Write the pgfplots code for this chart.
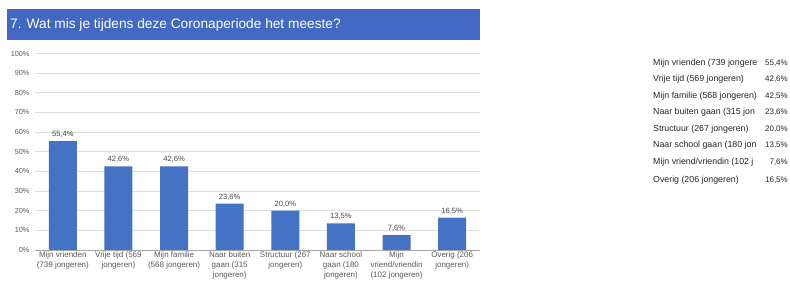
\documentclass[border=0pt]{standalone}
\usepackage{pgfplots}
\pgfplotsset{compat=1.18}
\usepackage{fontspec}
\setmainfont{Liberation Sans}
\definecolor{barblue}{RGB}{68,114,196}
\definecolor{banner}{RGB}{66,104,196}
\definecolor{ticktext}{RGB}{90,90,90}
\definecolor{gridc}{RGB}{222,222,222}
\begin{document}
\begin{tikzpicture}[x=1pt,y=1pt]
\useasboundingbox (0,0) rectangle (790,281);
\fill[white] (0,0) rectangle (790,281);
\fill[banner] (7,240.5) rectangle (480,271.5);
\node[anchor=west,text=white,font=\fontsize{13.7}{16}\selectfont,inner sep=0pt] at (10,256) {7. Wat mis je tijdens deze Coronaperiode het meeste?};
\begin{axis}[
  at={(35pt,31pt)}, anchor=south west,
  scale only axis, width=445pt, height=196.5pt,
  xmin=-0.5, xmax=7.5, ymin=0, ymax=100,
  ytick={0,10,...,100},
  yticklabel={\pgfmathprintnumber{\tick}\%},
  /pgf/number format/assume math mode=true,
  yticklabel style={font=\fontsize{7.3}{8}\selectfont, text=ticktext, xshift=-2pt},
  xtick=data,
  xticklabels={{Mijn vrienden\\(739 jongeren)},{Vrije tijd (569\\jongeren)},{Mijn familie\\(568 jongeren)},{Naar buiten\\gaan (315\\jongeren)},{Structuur (267\\jongeren)},{Naar school\\gaan (180\\jongeren)},{Mijn\\vriend/vriendin\\(102 jongeren)},{Overig (206\\jongeren)}},
  xticklabel style={font=\fontsize{8}{10}\selectfont, text=ticktext, align=center, yshift=0pt, inner ysep=2pt},
  axis line style={draw=none},
  tick style={draw=none},
  ymajorgrids, grid style={gridc, line width=0.6pt},
  extra y ticks={0}, extra y tick labels={},
  extra y tick style={grid style={gray!70, line width=0.6pt}},
  clip=false,
]
\addplot[ybar, bar width=28pt, fill=barblue, draw=none,
  nodes near coords, point meta=explicit symbolic,
  every node near coord/.append style={font=\fontsize{7.6}{9}\selectfont, text=ticktext!80!black, yshift=0pt}]
  coordinates {(0,55.4) [55,4\%] (1,42.6) [42,6\%] (2,42.5) [42,6\%] (3,23.6) [23,6\%] (4,20.0) [20,0\%] (5,13.5) [13,5\%] (6,7.6) [7,6\%] (7,16.5) [16,5\%]};
\end{axis}
\begin{scope}[font=\fontsize{8.8}{10}\selectfont, text=black!85]
\node[anchor=west,inner sep=0pt] at (653,218) {Mijn vrienden (739 jongere};
\node[anchor=west,inner sep=0pt] at (653,201.5) {Vrije tijd (569 jongeren)};
\node[anchor=west,inner sep=0pt] at (653,185) {Mijn familie (568 jongeren)};
\node[anchor=west,inner sep=0pt] at (653,168.5) {Naar buiten gaan (315 jon};
\node[anchor=west,inner sep=0pt] at (653,152) {Structuur (267 jongeren)};
\node[anchor=west,inner sep=0pt] at (653,135.5) {Naar school gaan (180 jon};
\node[anchor=west,inner sep=0pt] at (653,119) {Mijn vriend/vriendin (102 j};
\node[anchor=west,inner sep=0pt] at (653,101) {Overig (206 jongeren)};
\end{scope}
\begin{scope}[font=\fontsize{8}{10}\selectfont, text=black!85]
\node[anchor=east,inner sep=0pt] at (788,218) {55,4\%};
\node[anchor=east,inner sep=0pt] at (788,201.5) {42,6\%};
\node[anchor=east,inner sep=0pt] at (788,185) {42,5\%};
\node[anchor=east,inner sep=0pt] at (788,168.5) {23,6\%};
\node[anchor=east,inner sep=0pt] at (788,152) {20,0\%};
\node[anchor=east,inner sep=0pt] at (788,135.5) {13,5\%};
\node[anchor=east,inner sep=0pt] at (788,119) {7,6\%};
\node[anchor=east,inner sep=0pt] at (788,101) {16,5\%};
\end{scope}
\end{tikzpicture}
\end{document}
